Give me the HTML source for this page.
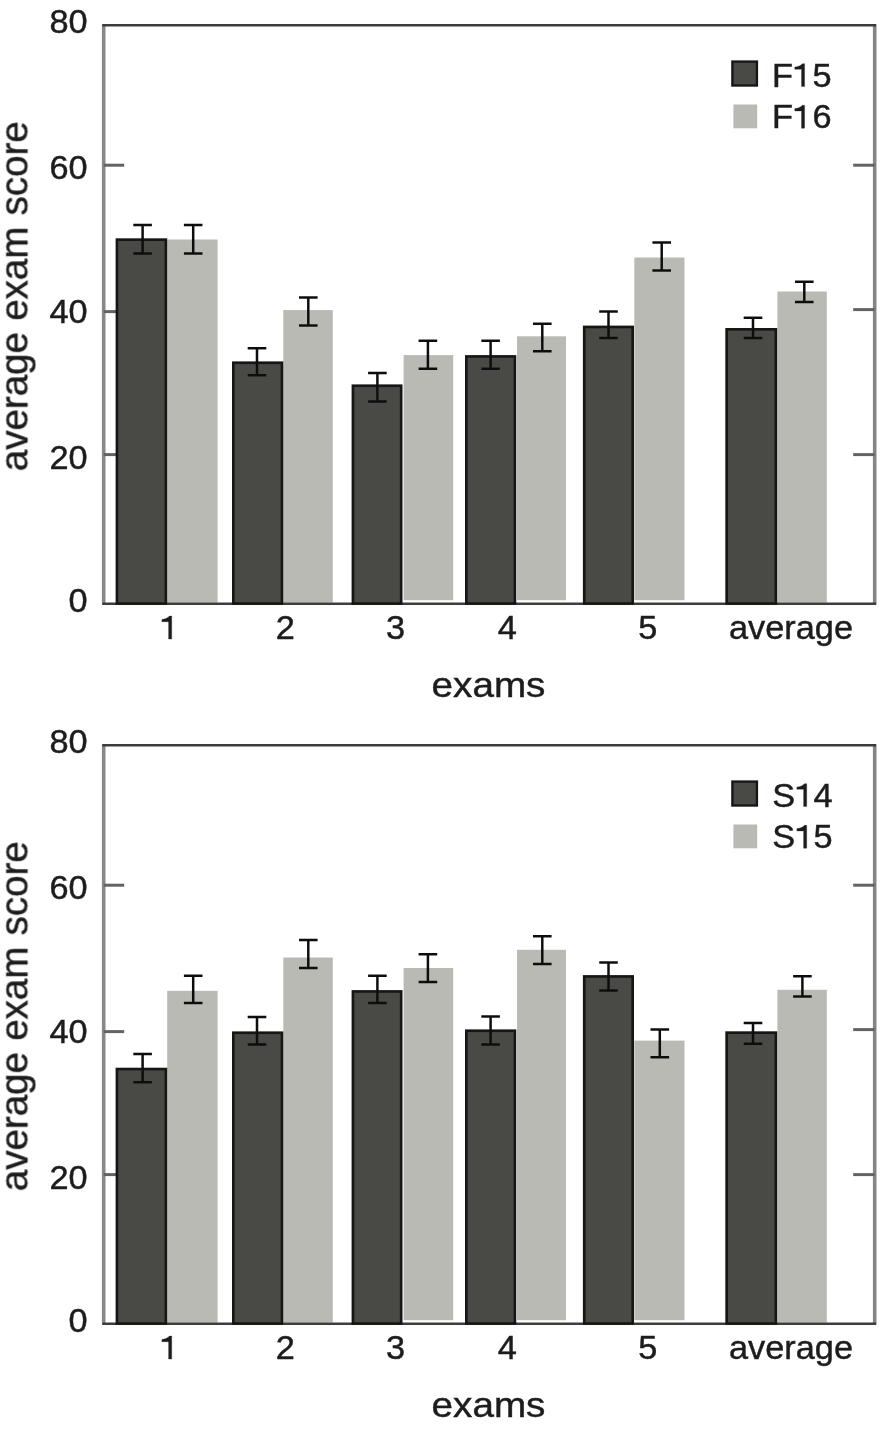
<!DOCTYPE html>
<html><head><meta charset="utf-8"><title>Average exam score</title>
<style>
html,body{margin:0;padding:0;background:#fff;}
body{width:883px;height:1432px;overflow:hidden;}
svg{display:block;}
text{font-family:"Liberation Sans",sans-serif;fill:#1c1c1c;stroke:#1c1c1c;stroke-width:0.45px;}
</style></head><body>
<svg width="883" height="1432" viewBox="0 0 883 1432">
<defs><filter id="soft" x="0" y="0" width="883" height="1432" filterUnits="userSpaceOnUse"><feGaussianBlur stdDeviation="0.7"/></filter></defs>
<rect width="883" height="1432" fill="#ffffff"/>
<g transform="translate(0,0)" filter="url(#soft)">
<rect x="167.2" y="239.5" width="50.4" height="363.1" fill="#b9bab4"/>
<rect x="283.3" y="310.1" width="49.5" height="292.5" fill="#b9bab4"/>
<rect x="403.6" y="355.1" width="49.6" height="245.1" fill="#b9bab4"/>
<rect x="517.0" y="336.3" width="49.0" height="263.9" fill="#b9bab4"/>
<rect x="634.3" y="257.5" width="50.2" height="342.7" fill="#b9bab4"/>
<rect x="777.4" y="291.5" width="49.4" height="311.1" fill="#b9bab4"/>
<line x1="103.7" y1="25.2" x2="103.7" y2="603.8" stroke="#888888" stroke-width="3.6"/>
<line x1="874.7" y1="25.2" x2="874.7" y2="603.8" stroke="#858585" stroke-width="3.6"/>
<line x1="102.2" y1="25.2" x2="876.2" y2="25.2" stroke="#3c3c3c" stroke-width="2.4"/>
<line x1="102.2" y1="603.8" x2="876.2" y2="603.8" stroke="#3c3c3c" stroke-width="2.4"/>
<line x1="103.7" y1="165.2" x2="124.2" y2="165.2" stroke="#646464" stroke-width="3.0"/>
<line x1="853.2" y1="165.2" x2="874.7" y2="165.2" stroke="#646464" stroke-width="3.0"/>
<line x1="103.7" y1="311.6" x2="124.2" y2="311.6" stroke="#646464" stroke-width="3.0"/>
<line x1="853.2" y1="309.6" x2="874.7" y2="309.6" stroke="#646464" stroke-width="3.0"/>
<line x1="103.7" y1="454.6" x2="124.2" y2="454.6" stroke="#646464" stroke-width="3.0"/>
<line x1="853.2" y1="454.6" x2="874.7" y2="454.6" stroke="#646464" stroke-width="3.0"/>
<rect x="116.95" y="239.65" width="48.90" height="363.90" fill="#4a4a44" stroke="#181815" stroke-width="2.7"/>
<rect x="233.35" y="362.75" width="48.60" height="240.80" fill="#4a4a44" stroke="#181815" stroke-width="2.7"/>
<rect x="352.95" y="385.75" width="48.20" height="217.80" fill="#4a4a44" stroke="#181815" stroke-width="2.7"/>
<rect x="466.35" y="356.45" width="48.60" height="247.10" fill="#4a4a44" stroke="#181815" stroke-width="2.7"/>
<rect x="584.25" y="326.95" width="48.40" height="276.60" fill="#4a4a44" stroke="#181815" stroke-width="2.7"/>
<rect x="726.65" y="329.35" width="49.20" height="274.20" fill="#4a4a44" stroke="#181815" stroke-width="2.7"/>
<path d="M133.3 225.1H151.9M133.3 253.5H151.9M142.6 225.1V253.5" stroke="#111111" stroke-width="2.5" fill="none"/>
<path d="M247.7 348.2H266.3M247.7 375.2H266.3M257.0 348.2V375.2" stroke="#111111" stroke-width="2.5" fill="none"/>
<path d="M368.1 373.1H386.7M368.1 401.4H386.7M377.4 373.1V401.4" stroke="#111111" stroke-width="2.5" fill="none"/>
<path d="M481.3 340.8H499.9M481.3 368.8H499.9M490.6 340.8V368.8" stroke="#111111" stroke-width="2.5" fill="none"/>
<path d="M599.2 311.4H617.8M599.2 338.1H617.8M608.5 311.4V338.1" stroke="#111111" stroke-width="2.5" fill="none"/>
<path d="M743.7 317.8H762.3M743.7 338.0H762.3M753.0 317.8V338.0" stroke="#111111" stroke-width="2.5" fill="none"/>
<path d="M183.9 225.1H202.5M183.9 253.5H202.5M193.2 225.1V253.5" stroke="#111111" stroke-width="2.5" fill="none"/>
<path d="M299.0 297.6H317.6M299.0 325.6H317.6M308.3 297.6V325.6" stroke="#111111" stroke-width="2.5" fill="none"/>
<path d="M418.6 340.8H437.2M418.6 368.8H437.2M427.9 340.8V368.8" stroke="#111111" stroke-width="2.5" fill="none"/>
<path d="M533.0 323.8H551.6M533.0 351.3H551.6M542.3 323.8V351.3" stroke="#111111" stroke-width="2.5" fill="none"/>
<path d="M652.4 242.5H671.0M652.4 270.6H671.0M661.7 242.5V270.6" stroke="#111111" stroke-width="2.5" fill="none"/>
<path d="M795.0 281.8H813.6M795.0 302.1H813.6M804.3 281.8V302.1" stroke="#111111" stroke-width="2.5" fill="none"/>
<rect x="732.4" y="61.6" width="24.5" height="23.9" fill="#4a4a44" stroke="#181815" stroke-width="2.4"/>
<rect x="733.4" y="104.5" width="23.8" height="23.8" fill="#b9bab4"/>
<text x="772.1" y="86.6" font-size="33.0" transform="translate(772.1 0) scale(1.04 1) translate(-772.1 0)">F</text>
<path transform="translate(804.6 86.6)" d="M0 0H-3.1V-17.3H-9.8V-19.6C-6.5 -19.9 -3.6 -21 -2.3 -22.9H0Z" fill="#1c1c1c" stroke="#1c1c1c" stroke-width="0.3"/>
<text x="812.5" y="86.6" font-size="33.0" transform="translate(812.5 0) scale(1.04 1) translate(-812.5 0)">5</text>
<text x="772.1" y="128.2" font-size="33.0" transform="translate(772.1 0) scale(1.04 1) translate(-772.1 0)">F</text>
<path transform="translate(804.6 128.2)" d="M0 0H-3.1V-17.3H-9.8V-19.6C-6.5 -19.9 -3.6 -21 -2.3 -22.9H0Z" fill="#1c1c1c" stroke="#1c1c1c" stroke-width="0.3"/>
<text x="812.4" y="128.2" font-size="33.0" transform="translate(812.4 0) scale(1.04 1) translate(-812.4 0)">6</text>
<text x="87.6" y="33.2" font-size="33.0" text-anchor="end" transform="translate(87.6 0) scale(1.04 1) translate(-87.6 0)">80</text>
<text x="87.6" y="178.6" font-size="33.0" text-anchor="end" transform="translate(87.6 0) scale(1.04 1) translate(-87.6 0)">60</text>
<text x="87.6" y="322.7" font-size="33.0" text-anchor="end" transform="translate(87.6 0) scale(1.04 1) translate(-87.6 0)">40</text>
<text x="87.6" y="469.0" font-size="33.0" text-anchor="end" transform="translate(87.6 0) scale(1.04 1) translate(-87.6 0)">20</text>
<text x="87.6" y="612.5" font-size="33.0" text-anchor="end" transform="translate(87.6 0) scale(1.04 1) translate(-87.6 0)">0</text>
<path transform="translate(171.7 639.0)" d="M0 0H-3.1V-17.3H-9.8V-19.6C-6.5 -19.9 -3.6 -21 -2.3 -22.9H0Z" fill="#1c1c1c" stroke="#1c1c1c" stroke-width="0.3"/>
<text x="285.2" y="639.0" font-size="33.0" text-anchor="middle" transform="translate(285.2 0) scale(1.04 1) translate(-285.2 0)">2</text>
<text x="395.6" y="639.0" font-size="33.0" text-anchor="middle" transform="translate(395.6 0) scale(1.04 1) translate(-395.6 0)">3</text>
<text x="507.3" y="639.0" font-size="33.0" text-anchor="middle" transform="translate(507.3 0) scale(1.04 1) translate(-507.3 0)">4</text>
<text x="647.8" y="639.0" font-size="33.0" text-anchor="middle" transform="translate(647.8 0) scale(1.04 1) translate(-647.8 0)">5</text>
<text x="791.0" y="639.0" font-size="33.0" text-anchor="middle" transform="translate(791.0 0) scale(1.04 1) translate(-791.0 0)">average</text>
<text x="488.5" y="696.6" font-size="36.0" text-anchor="middle" transform="translate(488.5 0) scale(1.075 1) translate(-488.5 0)">exams</text>
<text font-size="38.5" word-spacing="0.6" text-anchor="middle" transform="translate(27.4 296.2) rotate(-90)">average exam score</text>
</g>
<g transform="translate(0,720)" filter="url(#soft)">
<rect x="167.2" y="270.8" width="50.4" height="331.8" fill="#b9bab4"/>
<rect x="283.3" y="237.5" width="49.5" height="365.1" fill="#b9bab4"/>
<rect x="403.6" y="248.0" width="49.6" height="352.2" fill="#b9bab4"/>
<rect x="517.0" y="229.8" width="49.0" height="370.4" fill="#b9bab4"/>
<rect x="634.3" y="320.6" width="50.2" height="279.6" fill="#b9bab4"/>
<rect x="777.4" y="269.8" width="49.4" height="332.8" fill="#b9bab4"/>
<line x1="103.7" y1="25.2" x2="103.7" y2="603.8" stroke="#888888" stroke-width="3.6"/>
<line x1="874.7" y1="25.2" x2="874.7" y2="603.8" stroke="#858585" stroke-width="3.6"/>
<line x1="102.2" y1="25.2" x2="876.2" y2="25.2" stroke="#3c3c3c" stroke-width="2.4"/>
<line x1="102.2" y1="603.8" x2="876.2" y2="603.8" stroke="#3c3c3c" stroke-width="2.4"/>
<line x1="103.7" y1="165.2" x2="124.2" y2="165.2" stroke="#646464" stroke-width="3.0"/>
<line x1="853.2" y1="165.2" x2="874.7" y2="165.2" stroke="#646464" stroke-width="3.0"/>
<line x1="103.7" y1="311.6" x2="124.2" y2="311.6" stroke="#646464" stroke-width="3.0"/>
<line x1="853.2" y1="309.6" x2="874.7" y2="309.6" stroke="#646464" stroke-width="3.0"/>
<line x1="103.7" y1="454.6" x2="124.2" y2="454.6" stroke="#646464" stroke-width="3.0"/>
<line x1="853.2" y1="454.6" x2="874.7" y2="454.6" stroke="#646464" stroke-width="3.0"/>
<rect x="116.95" y="349.05" width="48.90" height="254.50" fill="#4a4a44" stroke="#181815" stroke-width="2.7"/>
<rect x="233.35" y="312.75" width="48.60" height="290.80" fill="#4a4a44" stroke="#181815" stroke-width="2.7"/>
<rect x="352.95" y="271.45" width="48.20" height="332.10" fill="#4a4a44" stroke="#181815" stroke-width="2.7"/>
<rect x="466.35" y="310.75" width="48.60" height="292.80" fill="#4a4a44" stroke="#181815" stroke-width="2.7"/>
<rect x="584.25" y="256.45" width="48.40" height="347.10" fill="#4a4a44" stroke="#181815" stroke-width="2.7"/>
<rect x="726.65" y="312.65" width="49.20" height="290.90" fill="#4a4a44" stroke="#181815" stroke-width="2.7"/>
<path d="M133.3 333.9H151.9M133.3 362.2H151.9M142.6 333.9V362.2" stroke="#111111" stroke-width="2.5" fill="none"/>
<path d="M247.7 297.1H266.3M247.7 324.4H266.3M257.0 297.1V324.4" stroke="#111111" stroke-width="2.5" fill="none"/>
<path d="M368.1 255.8H386.7M368.1 283.1H386.7M377.4 255.8V283.1" stroke="#111111" stroke-width="2.5" fill="none"/>
<path d="M481.3 296.4H499.9M481.3 324.4H499.9M490.6 296.4V324.4" stroke="#111111" stroke-width="2.5" fill="none"/>
<path d="M599.2 242.5H617.8M599.2 270.6H617.8M608.5 242.5V270.6" stroke="#111111" stroke-width="2.5" fill="none"/>
<path d="M743.7 303.0H762.3M743.7 323.8H762.3M753.0 303.0V323.8" stroke="#111111" stroke-width="2.5" fill="none"/>
<path d="M183.9 255.8H202.5M183.9 283.1H202.5M193.2 255.8V283.1" stroke="#111111" stroke-width="2.5" fill="none"/>
<path d="M299.0 220.0H317.6M299.0 248.0H317.6M308.3 220.0V248.0" stroke="#111111" stroke-width="2.5" fill="none"/>
<path d="M418.6 234.3H437.2M418.6 262.1H437.2M427.9 234.3V262.1" stroke="#111111" stroke-width="2.5" fill="none"/>
<path d="M533.0 216.3H551.6M533.0 244.0H551.6M542.3 216.3V244.0" stroke="#111111" stroke-width="2.5" fill="none"/>
<path d="M650.5 309.6H669.1M650.5 337.2H669.1M659.8 309.6V337.2" stroke="#111111" stroke-width="2.5" fill="none"/>
<path d="M793.1 256.3H811.7M793.1 276.6H811.7M802.4 256.3V276.6" stroke="#111111" stroke-width="2.5" fill="none"/>
<rect x="732.4" y="61.6" width="24.5" height="23.9" fill="#4a4a44" stroke="#181815" stroke-width="2.4"/>
<rect x="733.4" y="104.5" width="23.8" height="23.8" fill="#b9bab4"/>
<text x="772.3" y="86.6" font-size="33.0" transform="translate(772.3 0) scale(1.04 1) translate(-772.3 0)">S</text>
<path transform="translate(806.7 86.6)" d="M0 0H-3.1V-17.3H-9.8V-19.6C-6.5 -19.9 -3.6 -21 -2.3 -22.9H0Z" fill="#1c1c1c" stroke="#1c1c1c" stroke-width="0.3"/>
<text x="813.4" y="86.6" font-size="33.0" transform="translate(813.4 0) scale(1.04 1) translate(-813.4 0)">4</text>
<text x="772.3" y="128.2" font-size="33.0" transform="translate(772.3 0) scale(1.04 1) translate(-772.3 0)">S</text>
<path transform="translate(806.7 128.2)" d="M0 0H-3.1V-17.3H-9.8V-19.6C-6.5 -19.9 -3.6 -21 -2.3 -22.9H0Z" fill="#1c1c1c" stroke="#1c1c1c" stroke-width="0.3"/>
<text x="813.4" y="128.2" font-size="33.0" transform="translate(813.4 0) scale(1.04 1) translate(-813.4 0)">5</text>
<text x="87.6" y="33.2" font-size="33.0" text-anchor="end" transform="translate(87.6 0) scale(1.04 1) translate(-87.6 0)">80</text>
<text x="87.6" y="178.6" font-size="33.0" text-anchor="end" transform="translate(87.6 0) scale(1.04 1) translate(-87.6 0)">60</text>
<text x="87.6" y="322.7" font-size="33.0" text-anchor="end" transform="translate(87.6 0) scale(1.04 1) translate(-87.6 0)">40</text>
<text x="87.6" y="469.0" font-size="33.0" text-anchor="end" transform="translate(87.6 0) scale(1.04 1) translate(-87.6 0)">20</text>
<text x="87.6" y="612.5" font-size="33.0" text-anchor="end" transform="translate(87.6 0) scale(1.04 1) translate(-87.6 0)">0</text>
<path transform="translate(171.7 639.0)" d="M0 0H-3.1V-17.3H-9.8V-19.6C-6.5 -19.9 -3.6 -21 -2.3 -22.9H0Z" fill="#1c1c1c" stroke="#1c1c1c" stroke-width="0.3"/>
<text x="285.2" y="639.0" font-size="33.0" text-anchor="middle" transform="translate(285.2 0) scale(1.04 1) translate(-285.2 0)">2</text>
<text x="395.6" y="639.0" font-size="33.0" text-anchor="middle" transform="translate(395.6 0) scale(1.04 1) translate(-395.6 0)">3</text>
<text x="507.3" y="639.0" font-size="33.0" text-anchor="middle" transform="translate(507.3 0) scale(1.04 1) translate(-507.3 0)">4</text>
<text x="647.8" y="639.0" font-size="33.0" text-anchor="middle" transform="translate(647.8 0) scale(1.04 1) translate(-647.8 0)">5</text>
<text x="791.0" y="639.0" font-size="33.0" text-anchor="middle" transform="translate(791.0 0) scale(1.04 1) translate(-791.0 0)">average</text>
<text x="488.5" y="696.6" font-size="36.0" text-anchor="middle" transform="translate(488.5 0) scale(1.075 1) translate(-488.5 0)">exams</text>
<text font-size="38.5" word-spacing="0.6" text-anchor="middle" transform="translate(27.4 296.2) rotate(-90)">average exam score</text>
</g>
</svg>
</body></html>
